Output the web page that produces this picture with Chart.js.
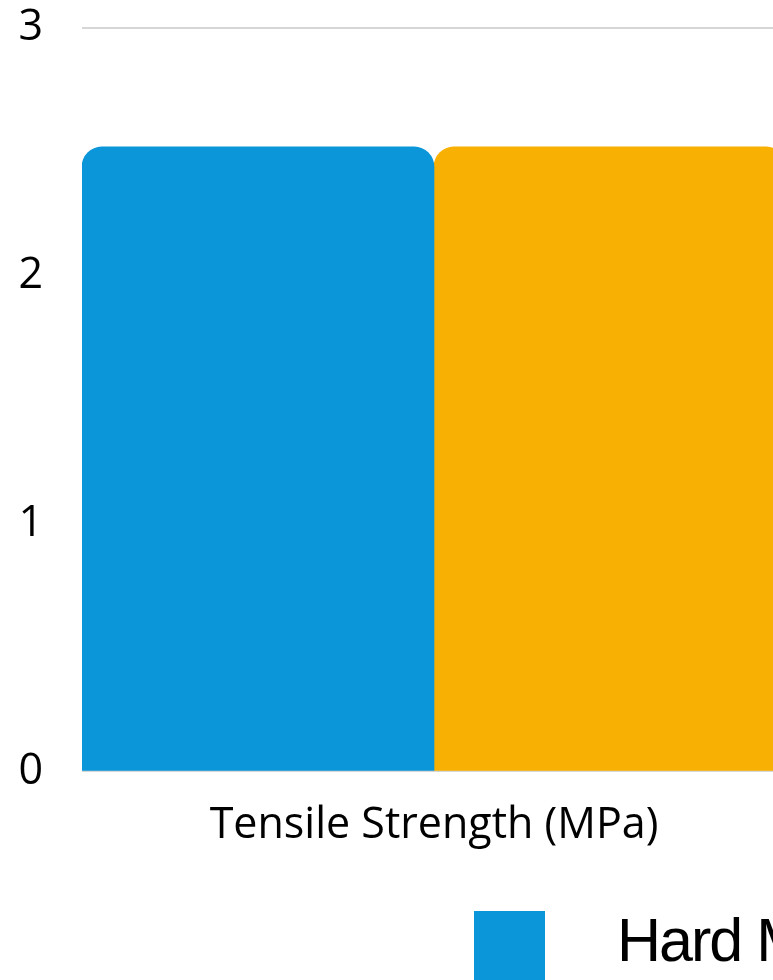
<!DOCTYPE html>
<html>
<head>
<meta charset="utf-8">
<title>Tensile Strength</title>
<script src="https://cdn.jsdelivr.net/npm/chart.js@4.4.1/dist/chart.umd.min.js"></script>
<style>
    html, body {
        margin: 0;
        padding: 0;
        background: #fff;
        overflow: hidden;
    }
    #wrap {
        position: relative;
        width: 800px;
        height: 980px;
    }
    #chartBox {
        position: absolute;
        left: 0;
        top: 0;
        width: 800px;
        height: 880px;
    }
    #legend {
        position: absolute;
        left: 474px;
        top: 911px;
        display: flex;
        white-space: nowrap;
    }
    .legend-item {
        display: flex;
        align-items: flex-start;
        margin-right: 80px;
    }
    .legend-box {
        width: 71px;
        height: 71px;
        flex: none;
    }
    .legend-text {
        margin-left: 72px;
        margin-top: -1px;
        font-family: "Liberation Sans", Arial, sans-serif;
        font-size: 61px;
        line-height: 61px;
        letter-spacing: -2px;
        color: #000;
    }
</style>
</head>
<body>
<div id="wrap">
    <div id="chartBox"><canvas id="strengthChart"></canvas></div>
    <div id="legend"></div>
</div>

<script>
// Chart data
const categories = ["Tensile Strength (MPa)"];
const seriesNames = ["Hard Maple", "Soft Maple"];
const hardValues = [2.52];
const softValues = [2.52];
const yTicks = [0, 1, 2, 3];

const colors = ["#0a96d8", "#f8b002"];
const tickFont = { family: "'Open Sans', sans-serif", size: 43 };

// Legend built as html under the canvas
const htmlLegend = {
    id: "htmlLegend",
    afterUpdate(chart) {
        const box = document.getElementById("legend");
        box.innerHTML = "";
        const items = chart.options.plugins.legend.labels.generateLabels(chart);
        items.forEach(item => {
            const el = document.createElement("div");
            el.className = "legend-item";

            const swatch = document.createElement("span");
            swatch.className = "legend-box";
            swatch.style.background = item.fillStyle;

            const text = document.createElement("span");
            text.className = "legend-text";
            text.textContent = item.text;

            el.appendChild(swatch);
            el.appendChild(text);
            box.appendChild(el);
        });
    }
};

const ctx = document.getElementById("strengthChart").getContext("2d");
const strengthChart = new Chart(ctx, {
    type: "bar",
    data: {
        labels: categories,
        datasets: [
            {
                label: seriesNames[0],
                backgroundColor: colors[0],
                data: hardValues
            },
            {
                label: seriesNames[1],
                backgroundColor: colors[1],
                data: softValues
            }
        ]
    },
    options: {
        responsive: true,
        maintainAspectRatio: false,
        animation: false,
        layout: {
            padding: { top: 28, right: 14, bottom: 7, left: 0 }
        },
        datasets: {
            bar: {
                barPercentage: 1,
                categoryPercentage: 1,
                borderWidth: 0,
                borderRadius: { topLeft: 20, topRight: 20 },
                borderSkipped: "start"
            }
        },
        plugins: {
            legend: { display: false },
            tooltip: { enabled: false }
        },
        scales: {
            x: {
                grid: { display: false },
                border: { display: false },
                ticks: {
                    color: "#000",
                    font: tickFont,
                    padding: 21
                }
            },
            y: {
                min: 0,
                max: 3,
                afterBuildTicks(scale) {
                    scale.ticks = yTicks.map(v => ({ value: v }));
                },
                afterFit(scale) {
                    scale.width = 82;
                    scale.paddingTop = 0;
                    scale.paddingBottom = 0;
                },
                grid: {
                    color: "#d6d6d6",
                    lineWidth: 2,
                    drawTicks: false
                },
                border: { display: false },
                ticks: {
                    color: "#000",
                    font: tickFont,
                    padding: 39
                }
            }
        }
    },
    plugins: [htmlLegend]
});
</script>
</body>
</html>
